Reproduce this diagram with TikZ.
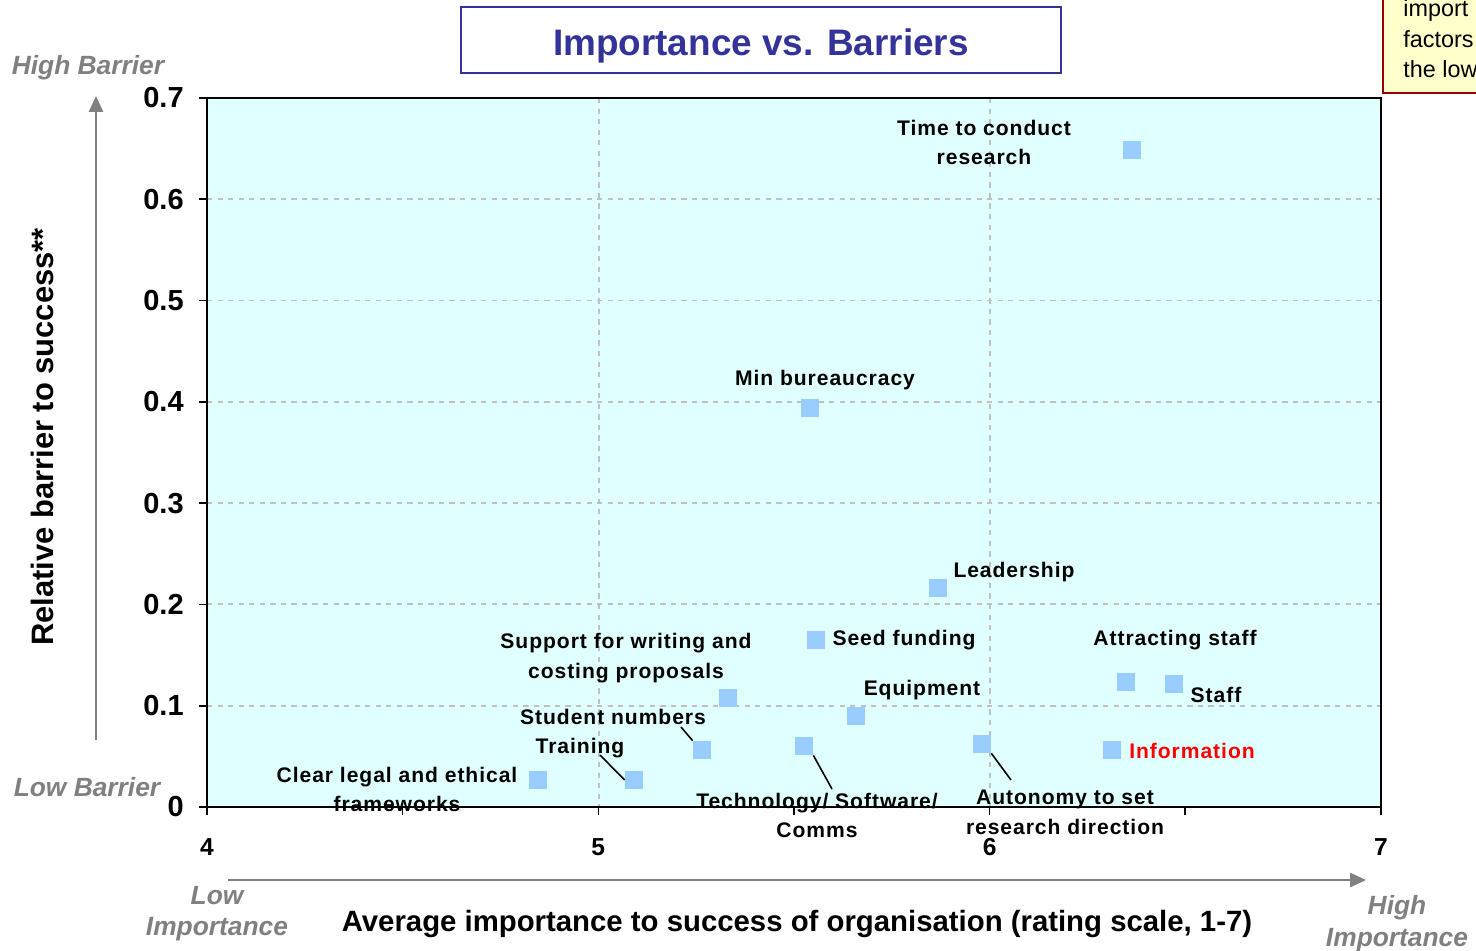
\documentclass[tikz,border=0pt]{standalone}
\usepackage{fontspec}
\setmainfont{Liberation Sans}
\newfontfamily\spacedfont[LetterSpace=4.5]{Liberation Sans}
\usetikzlibrary{arrows.meta}

\definecolor{plotbg}{RGB}{224,255,255}
\definecolor{ptblue}{RGB}{153,204,255}
\definecolor{titleblue}{RGB}{51,51,153}
\definecolor{notefill}{RGB}{255,255,204}
\definecolor{notered}{RGB}{153,0,0}
\definecolor{gridgrey}{RGB}{192,192,192}
\definecolor{hintgrey}{RGB}{128,128,128}

\tikzset{
    pt/.style={fill=ptblue, inner sep=0pt, minimum size=0.36cm},
    lbl/.style={font=\spacedfont\fontsize{12}{17}\selectfont\bfseries, align=center, inner sep=0pt, yshift=-0.05cm},
    ticklbl/.style={font=\fontsize{16.5}{19}\selectfont\bfseries, inner sep=0pt},
    axtitle/.style={font=\fontsize{16.7}{19}\selectfont\bfseries, inner sep=0pt},
    hint/.style={font=\fontsize{15}{18}\selectfont\bfseries\itshape, text=hintgrey, align=center, inner sep=0pt, yshift=-0.05cm},
    hintarrow/.style={hintgrey, line width=1.3pt, -{Triangle[length=9pt,width=8pt]}},
    leader/.style={line width=0.9pt}
}

\begin{document}
\begin{tikzpicture}[x=0.02cm,y=-0.02cm]
        \useasboundingbox (0,0) rectangle (1476,950);

        % plot area and grid
        \fill[plotbg] (207,98) rectangle (1381,807);
        \foreach \v in {1,...,6} {
            \draw[gridgrey,line width=1.1pt,dash pattern=on 3pt off 3pt] (207,807-101.3*\v) -- (1381,807-101.3*\v);
        }
        \foreach \u in {599,990} {
            \draw[gridgrey,line width=1.1pt,dash pattern=on 3pt off 3pt] (\u,98) -- (\u,807);
        }
        \draw[line width=1.1pt] (207,98) rectangle (1381,807);

        % ticks
        \foreach \v in {0,...,7} {
            \draw[line width=0.9pt] (199,807-101.3*\v) -- (207,807-101.3*\v);
        }
        \foreach \i in {0,...,6} {
            \draw[line width=0.9pt] (207+195.65*\i,807) -- (207+195.65*\i,815);
        }
        \foreach \v/\t in {0/0,1/0.1,2/0.2,3/0.3,4/0.4,5/0.5,6/0.6,7/0.7} {
            \node[ticklbl,anchor=east] (y\v) at (184,807-101.3*\v) {\t};
        }
        \foreach \n [count=\i from 0] in {4,5,6,7} {
            \node[ticklbl,font=\fontsize{14}{16}\selectfont\bfseries] (x\n) at (207+391.3*\i,847) {\n};
        }

        % title and note
        \draw[titleblue, line width=1.2pt] (461,7) rectangle (1061,73);
        \node[text=titleblue, inner sep=0pt, font=\fontsize{21}{25}\selectfont\bfseries] (title) at (761,46) {Importance vs. Barriers};
        \draw[notered, fill=notefill, line width=1pt] (1383,-10) rectangle (1490,93);
        \node[anchor=west, align=left, inner sep=0pt, font=\fontsize{13.3}{17.4}\selectfont] (note) at (1403,39) {import\\factors\\the low};

        % axis titles and hints
        \node[axtitle,font=\fontsize{17.6}{19}\selectfont\bfseries,rotate=90] (ytitle) at (42,437) {Relative barrier to success**};
        \node[axtitle] (xtitle) at (797,924) {Average importance to success of organisation (rating scale, 1-7)};
        \node[hint] (hibar) at (88,65) {High Barrier};
        \node[hint] (lobar) at (87,785) {Low Barrier};
        \node[hint] (loimp) at (217,911) {Low\\Importance};
        \node[hint] (hiimp) at (1397,921) {High\\Importance};
        \coordinate (ybot) at (96,740);
        \coordinate (ytop) at (96,96);
        \coordinate (xlft) at (228,880);
        \coordinate (xrgt) at (1366,880);
        \draw[hintarrow] (ybot) -- (ytop);
        \draw[hintarrow] (xlft) -- (xrgt);

        % data points
        \node[pt] (time) at (1132,150) {};
        \node[pt] (bureau) at (810,408) {};
        \node[pt] (lead) at (938,588) {};
        \node[pt] (seed) at (816,640) {};
        \node[pt] (support) at (728,698) {};
        \node[pt] (equip) at (856,716) {};
        \node[pt] (attract) at (1126,682) {};
        \node[pt] (staff) at (1174,684) {};
        \node[pt] (student) at (702,750) {};
        \node[pt] (tech) at (804,746) {};
        \node[pt] (auto) at (982,744) {};
        \node[pt] (info) at (1112,750) {};
        \node[pt] (train) at (634,780) {};
        \node[pt] (legal) at (538,780) {};

        % labels
        \node[lbl] (timelbl) at (984,140) {Time to conduct\\research};
        \node[lbl] (bureaulbl) at (825,378) {Min bureaucracy};
        \node[lbl] (leadlbl) at (1014,570) {Leadership};
        \node[lbl] (seedlbl) at (904,638) {Seed funding};
        \node[lbl] (supportlbl) at (626,656) {Support for writing and\\costing proposals};
        \node[lbl] (equiplbl) at (922,688) {Equipment};
        \node[lbl] (attractlbl) at (1175,638) {Attracting staff};
        \node[lbl] (stafflbl) at (1216,692) {Staff};
        \node[lbl] (studentlbl) at (613,714) {Student numbers};
        \node[lbl] (trainlbl) at (580,746) {Training};
        \node[lbl] (legallbl) at (397,787) {Clear legal and ethical\\frameworks};
        \node[lbl] (techlbl) at (817,813) {Technology/ Software/\\Comms};
        \node[lbl] (autolbl) at (1065,810) {Autonomy to set\\research direction};
        \node[lbl,text=red] (infolbl) at (1192,748) {Information};

        % leader lines
        \coordinate (studentend) at (681,727);
        \coordinate (trainend) at (600,755);
        \coordinate (techend) at (832,789);
        \coordinate (autoend) at (1011,780);
        \draw[leader] (studentend) -- (student.north west);
        \draw[leader] (trainend) -- (train.west);
        \draw[leader] (tech.south east) -- (techend);
        \draw[leader] (auto.south east) -- (autoend);

    \end{tikzpicture}
\end{document}
